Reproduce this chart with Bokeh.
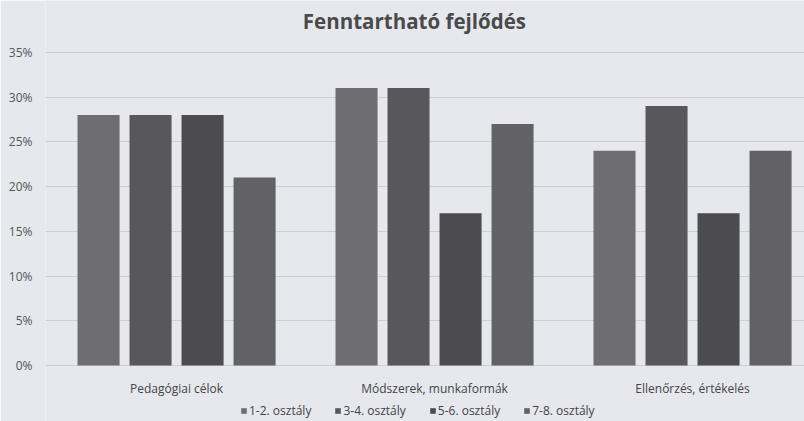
from bokeh.plotting import figure
from bokeh.models import Range1d, Legend, LegendItem, FixedTicker, NumeralTickFormatter
from bokeh.core.properties import value
from bokeh.embed import file_html
from bokeh.resources import INLINE

title_text = "Fenntartható fejlődés"
categories = ["Pedagógiai célok", "Módszerek, munkaformák", "Ellenőrzés, értékelés"]
series_names = ["1-2. osztály", "3-4. osztály", "5-6. osztály", "7-8. osztály"]
s12 = [0.28, 0.31, 0.24]
s34 = [0.28, 0.31, 0.29]
s56 = [0.28, 0.17, 0.17]
s78 = [0.21, 0.27, 0.24]
series = [s12, s34, s56, s78]
colors = ["#6e6e72", "#58585c", "#4c4b4f", "#626266"]
y_ticks = [0, 0.05, 0.10, 0.15, 0.20, 0.25, 0.30, 0.35]

FONT = "Open Sans"
BG = "#e6e8ee"

p = figure(frame_width=759, frame_height=421, output_backend="svg", toolbar_location=None,
           title=None,
           x_range=Range1d(-0.008, 2.934), y_range=Range1d(-0.0626, 0.4079),
           min_border_left=45, min_border_right=0, min_border_top=0, min_border_bottom=0,
           background_fill_color=BG, border_fill_color=BG, outline_line_color=None)

centers = [i + 0.5 for i in range(len(categories))]
stride = 0.2016
width = 0.163
items = []
for k, (vals, name, col) in enumerate(zip(series, series_names, colors)):
    xs = [c + (k - 1.5) * stride for c in centers]
    r = p.vbar(x=xs, top=vals, bottom=0, width=width, fill_color=col, line_color=None)
    items.append(LegendItem(label=name, renderers=[r]))

# Title (drawn in the plot area above the 35% line)
p.text(x=[1.422], y=[0.3855], text=[title_text], text_font=value(FONT),
       text_font_style="bold", text_font_size="20.5px", text_color="#4a4a4a",
       text_align="center", text_baseline="middle")

# Category labels under the baseline
p.text(x=centers, y=[-0.0257] * len(centers), text=categories, text_font=value(FONT),
       text_font_size="12px", text_color="#444444",
       text_align="center", text_baseline="middle")

# Axes
p.xaxis.visible = False

p.yaxis.ticker = FixedTicker(ticks=y_ticks)
p.yaxis.formatter = NumeralTickFormatter(format="0%")
p.yaxis.axis_line_color = None
p.yaxis.major_tick_line_color = None
p.yaxis.minor_tick_line_color = None
p.yaxis.major_tick_out = 0
p.yaxis.major_tick_in = 0
p.yaxis.minor_tick_out = 0
p.yaxis.minor_tick_in = 0
p.yaxis.major_label_text_font = FONT
p.yaxis.major_label_text_font_size = "12px"
p.yaxis.major_label_text_color = "#555555"
p.yaxis.major_label_standoff = 13

p.xgrid.grid_line_color = None
p.ygrid.ticker = FixedTicker(ticks=y_ticks)
p.ygrid.grid_line_color = "#b4b4ba"
p.ygrid.grid_line_dash = "1 1"
p.ygrid.grid_line_width = 1

legend = Legend(items=items, orientation="horizontal", location=(195, 2),
                label_text_font=FONT, label_text_font_size="12px", label_text_color="#444444",
                glyph_width=7, glyph_height=7, label_standoff=2, spacing=23,
                label_height=12, padding=0, margin=0,
                border_line_color=None, background_fill_alpha=0)
p.add_layout(legend, "center")

open("out.html", "w").write(file_html(p, INLINE))
